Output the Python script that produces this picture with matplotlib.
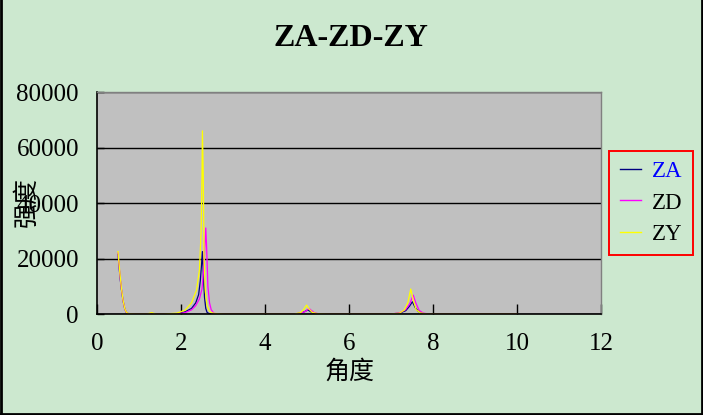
import matplotlib
matplotlib.use("Agg")
import matplotlib.pyplot as plt
from matplotlib.lines import Line2D

plt.rcParams['font.family'] = ['Liberation Serif', 'Noto Sans CJK SC']

# data (angle, intensity)
za_x = [0.50, 0.52, 0.55, 0.58, 0.62, 0.66, 0.70, 0.75, 0.90,
        1.90, 2.10, 2.25, 2.35, 2.42, 2.46, 2.49, 2.51, 2.53, 2.56, 2.59, 2.62, 2.66, 2.72, 2.80, 3.00,
        4.70, 4.85, 4.95, 5.02, 5.08, 5.15, 5.30,
        7.00, 7.20, 7.35, 7.44, 7.51, 7.57, 7.65, 7.75, 7.90, 10.0]
za_y = [21500, 18000, 13000, 9000, 4800, 1900, 500, 100, 0,
        0, 800, 2000, 4000, 7000, 12000, 18000, 22500, 15000, 6000, 2000, 600, 200, 50, 0, 0,
        0, 300, 900, 1500, 900, 300, 0,
        0, 300, 1200, 2800, 4400, 2500, 900, 200, 0, 0]

zd_x = [0.50, 0.52, 0.55, 0.58, 0.62, 0.66, 0.70, 0.75, 0.90,
        1.90, 2.10, 2.25, 2.35, 2.44, 2.50, 2.54, 2.57, 2.59, 2.61, 2.64, 2.68, 2.72, 2.78, 2.85, 3.00,
        4.70, 4.85, 4.97, 5.05, 5.11, 5.18, 5.30,
        7.00, 7.20, 7.35, 7.45, 7.53, 7.59, 7.67, 7.77, 7.90, 10.0]
zd_y = [22000, 18500, 13500, 9200, 4900, 1900, 500, 100, 0,
        0, 500, 1500, 3000, 5500, 9000, 16000, 25000, 31000, 24000, 10000, 4000, 1500, 300, 0, 0,
        0, 300, 1000, 2000, 1200, 400, 0,
        0, 400, 1600, 3800, 6800, 4000, 1300, 300, 0, 0]

zy_x = [0.50, 0.52, 0.55, 0.58, 0.62, 0.66, 0.70, 0.75, 0.90,
        1.20, 1.30, 1.40, 1.60,
        1.90, 2.10, 2.25, 2.37, 2.44, 2.48, 2.50, 2.51, 2.53, 2.55, 2.58, 2.62, 2.67, 2.72, 2.80, 3.00,
        4.70, 4.85, 4.93, 4.99, 5.05, 5.12, 5.25, 5.50,
        7.00, 7.20, 7.32, 7.40, 7.47, 7.53, 7.60, 7.70, 7.85, 10.0]
zy_y = [22500, 19000, 14000, 9500, 5000, 2000, 600, 100, 0,
        0, 500, 0, 0,
        300, 1400, 4000, 8600, 16000, 30000, 50000, 66000, 50000, 20000, 8000, 3000, 1200, 500, 200, 0,
        0, 500, 1800, 3200, 1800, 600, 100, 0,
        0, 300, 1500, 4000, 9000, 5000, 1500, 400, 0, 0]

series = [("ZA", za_x, za_y, "#000080"),
          ("ZD", zd_x, zd_y, "#FF00FF"),
          ("ZY", zy_x, zy_y, "#FFFF00")]

bg = "#CCE8CF"
fig = plt.figure(figsize=(7.03, 4.15), dpi=100, facecolor=bg)
ax = fig.add_axes([97 / 703, 1 - 314 / 415, 504 / 703, 222 / 415])
ax.set_facecolor("#C0C0C0")

for name, xs, ys, col in series:
    ax.plot(xs, ys, color=col, lw=0.9, label=name)

ax.set_xlim(0, 12)
ax.set_ylim(0, 80000)
ax.set_xticks(range(0, 13, 2))
ax.set_yticks(range(0, 80001, 20000))
ax.grid(axis="y", color="black", lw=1)
ax.tick_params(axis="x", direction="in", length=7, width=1, labelsize=18, pad=14)
ax.tick_params(axis="y", direction="in", length=5, width=1, labelsize=18, pad=13)
for s in ("left", "bottom"):
    ax.spines[s].set_color("black")
    ax.spines[s].set_linewidth(1.2)
for s in ("top", "right"):
    ax.spines[s].set_color("#808080")
    ax.spines[s].set_linewidth(1)

fig.text(351 / 703, 1 - 38 / 415, "ZA-ZD-ZY", ha="center", va="center",
         fontsize=23, fontweight="bold")
fig.text(350 / 703, 1 - 372 / 415, "角度", ha="center", va="center", fontsize=18)
# y label sits over the 40000 tick label, as in the reference
fig.text(27 / 703, 1 - 202 / 415, "强度", ha="center", va="center", fontsize=18, rotation=90)

handles = [Line2D([], [], color=c, lw=1) for _, _, _, c in series]
leg = fig.legend(handles, [s[0] for s in series], loc="center",
                 bbox_to_anchor=(651 / 703, 1 - 203 / 415), frameon=True, framealpha=1,
                 fontsize=16.5, handlelength=0.95, handletextpad=0.45,
                 labelspacing=0.45, borderpad=0.45, borderaxespad=0, fancybox=False)
leg.get_frame().set_edgecolor("#FF0000")
leg.get_frame().set_facecolor(bg)
leg.get_frame().set_linewidth(1.4)
leg.get_texts()[0].set_color("blue")

# figure frame
fig.add_artist(Line2D([0.001, 0.001], [0, 1], transform=fig.transFigure, color="black", lw=2))
fig.add_artist(Line2D([0, 1], [0.002, 0.002], transform=fig.transFigure, color="black", lw=2))
fig.add_artist(Line2D([0.999, 0.999], [0, 1], transform=fig.transFigure, color="black", lw=2))

fig.savefig("out.png", dpi=100, facecolor=bg)
